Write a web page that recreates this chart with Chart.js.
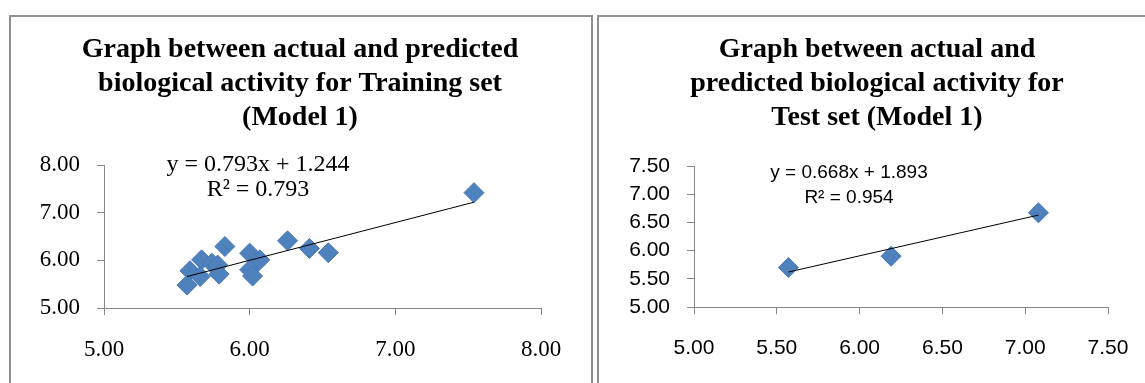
<!DOCTYPE html>
<html>
<head>
    <title>Actual vs predicted (Model 1)</title>
    <script src="https://cdn.jsdelivr.net/npm/chart.js"></script>
    <style>
        body {
            margin: 0;
            background-color: #ffffff;
            overflow: hidden;
        }

        .box {
            position: absolute;
            top: 15px;
            height: 400px;
            border: 2px solid #8f8f8f;
        }

        .box canvas {
            position: absolute;
            left: 0;
            top: 0;
        }
    </style>
</head>
<body>
    <div class="box" style="left: 9px; width: 580px;">
        <canvas id="training" width="578" height="366"></canvas>
    </div>
    <div class="box" style="left: 597px; width: 560px;">
        <canvas id="test" width="556" height="366"></canvas>
    </div>
    <script>
        // Training set (Model 1): actual vs predicted activity
        var trainActual = [5.59, 5.57, 5.67, 5.66, 5.74, 5.78, 5.79, 5.83, 6.00, 6.00, 6.02, 6.07, 6.26, 6.41, 6.54, 7.54];
        var trainPredicted = [5.78, 5.48, 6.01, 5.66, 5.94, 5.90, 5.71, 6.29, 6.15, 5.80, 5.67, 6.01, 6.41, 6.25, 6.16, 7.42];
        var trainTrendX = [5.57, 7.54];
        var trainTrendY = [5.66, 7.22];
        var trainTicks = [5, 6, 7, 8];

        // Test set (Model 1)
        var testActual = [5.57, 6.19, 7.08];
        var testPredicted = [5.70, 5.90, 6.67];
        var testTrendX = [5.57, 7.08];
        var testTrendY = [5.62, 6.63];
        var testTicks = [5, 5.5, 6, 6.5, 7, 7.5];

        var pointBlue = '#4F81BD';
        var axisGrey = '#868686';

        function pairs(xs, ys) {
            return xs.map(function(x, i) { return {x: x, y: ys[i]}; });
        }

        // writes the trendline equation inside the plot area
        var equationText = {
            id: 'equationText',
            afterDraw: function(chart, args, opts) {
                var ctx = chart.ctx;
                var area = chart.chartArea;
                ctx.save();
                ctx.fillStyle = '#000';
                ctx.textAlign = 'center';
                ctx.textBaseline = 'middle';
                ctx.font = opts.font;
                opts.lines.forEach(function(line, i) {
                    ctx.fillText(line, area.left + opts.dx, area.top + opts.dy + i * opts.gap);
                });
                ctx.restore();
            }
        };

        function makeChart(id, cfg) {
            var tickFont = {family: cfg.tickFamily, size: cfg.tickSize};
            return new Chart(document.getElementById(id), {
                type: 'scatter',
                data: {
                    datasets: [{
                        label: 'trend',
                        data: pairs(cfg.trendX, cfg.trendY),
                        showLine: true,
                        borderColor: '#000',
                        borderWidth: 1,
                        pointRadius: 0
                    }, {
                        label: 'points',
                        data: pairs(cfg.actual, cfg.predicted),
                        pointStyle: 'rectRot',
                        pointRadius: 10,
                        backgroundColor: pointBlue,
                        borderColor: '#4677B4',
                        borderWidth: 1
                    }]
                },
                options: {
                    responsive: false,
                    animation: false,
                    devicePixelRatio: 1,
                    layout: {
                        padding: 0
                    },
                    scales: {
                        x: {
                            type: 'linear',
                            min: cfg.ticks[0],
                            max: cfg.ticks[cfg.ticks.length - 1],
                            afterBuildTicks: function(scale) {
                                scale.ticks = cfg.ticks.map(function(v) { return {value: v}; });
                            },
                            afterFit: function(scale) { scale.height = cfg.xHeight; },
                            ticks: {
                                color: '#000',
                                font: tickFont,
                                padding: cfg.xPad,
                                maxRotation: 0,
                                callback: function(v) { return Number(v).toFixed(2); }
                            },
                            grid: {
                                drawOnChartArea: false,
                                drawTicks: true,
                                tickLength: 7,
                                color: axisGrey
                            },
                            border: {color: axisGrey, width: 1}
                        },
                        y: {
                            type: 'linear',
                            min: cfg.ticks[0],
                            max: cfg.ticks[cfg.ticks.length - 1],
                            afterBuildTicks: function(scale) {
                                scale.ticks = cfg.ticks.map(function(v) { return {value: v}; });
                            },
                            afterFit: function(scale) { scale.width = cfg.yWidth; },
                            ticks: {
                                color: '#000',
                                font: tickFont,
                                padding: 17,
                                callback: function(v) { return Number(v).toFixed(2); }
                            },
                            grid: {
                                drawOnChartArea: false,
                                drawTicks: true,
                                tickLength: 7,
                                color: axisGrey
                            },
                            border: {color: axisGrey, width: 1}
                        },
                        // empty right axis, only keeps blank space right of the plot
                        // so the title stays centred in the box
                        spacer: {
                            type: 'linear',
                            position: 'right',
                            ticks: {display: false},
                            grid: {display: false},
                            border: {display: false},
                            afterFit: function(scale) { scale.width = cfg.padRight; }
                        }
                    },
                    plugins: {
                        legend: {display: false},
                        tooltip: {enabled: false},
                        title: {
                            display: true,
                            text: cfg.title,
                            color: '#000',
                            font: {family: 'Liberation Serif', size: 28, weight: 'bold', lineHeight: 34 / 28},
                            padding: {top: 16, bottom: cfg.titleBottom}
                        },
                        equationText: cfg.equation
                    }
                },
                plugins: [equationText]
            });
        }

        makeChart('training', {
            title: ['Graph between actual and predicted', 'biological activity for Training set', '(Model 1)'],
            actual: trainActual,
            predicted: trainPredicted,
            trendX: trainTrendX,
            trendY: trainTrendY,
            ticks: trainTicks,
            tickFamily: 'Liberation Serif',
            tickSize: 23,
            xPad: 21,
            xHeight: 75,
            yWidth: 93,
            padRight: 48,
            titleBottom: 30,
            equation: {
                lines: ['y = 0.793x + 1.244', 'R\u00b2 = 0.793'],
                font: '24px "Liberation Serif"',
                dx: 154, dy: 0, gap: 25
            }
        });

        makeChart('test', {
            title: ['Graph between actual and', 'predicted biological activity for', 'Test set (Model 1)'],
            actual: testActual,
            predicted: testPredicted,
            trendX: testTrendX,
            trendY: testTrendY,
            ticks: testTicks,
            tickFamily: 'Liberation Sans',
            tickSize: 21,
            xPad: 22,
            xHeight: 76,
            yWidth: 95,
            padRight: 47,
            titleBottom: 31,
            equation: {
                lines: ['y = 0.668x + 1.893', 'R\u00b2 = 0.954'],
                font: '19px "Liberation Sans"',
                dx: 155, dy: 7, gap: 25
            }
        });
    </script>
</body>
</html>
